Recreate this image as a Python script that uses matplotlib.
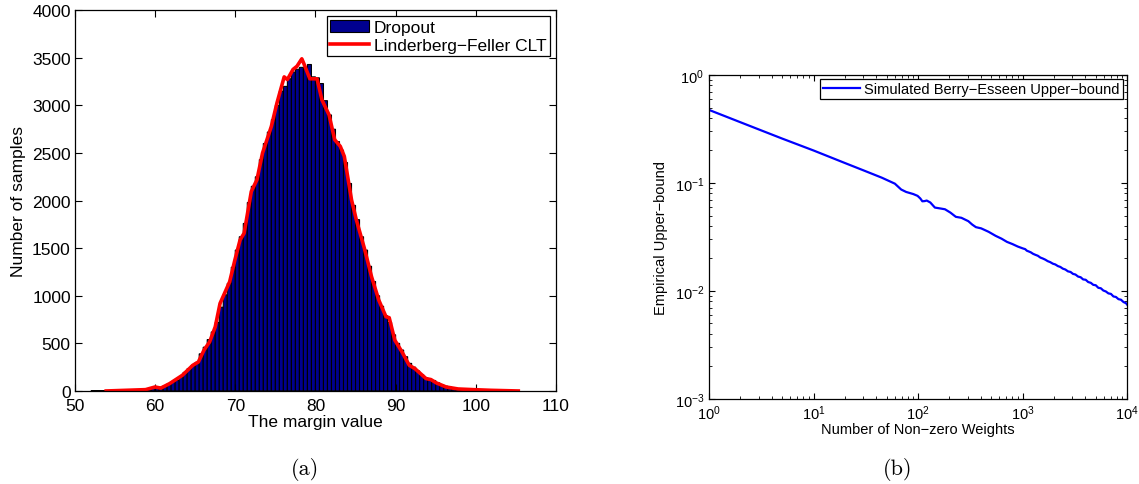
import numpy as np
import matplotlib
matplotlib.use("Agg")
import matplotlib.pyplot as plt
from matplotlib.patches import Patch
from matplotlib.lines import Line2D

plt.rcParams['font.family'] = ['Liberation Sans', 'DejaVu Sans']
plt.rcParams['mathtext.fontset'] = 'custom'
plt.rcParams['mathtext.rm'] = 'Liberation Sans'
plt.rcParams['mathtext.it'] = 'Liberation Sans:italic'

# ---------------- data: panel (a) ----------------
bin_start = 52.0
bin_width = 0.5
hist_counts = [1, 2, 2, 3, 3, 4, 5, 6, 7, 9, 10, 12, 14, 17, 22, 30,
               40, 40, 55, 75, 95, 110, 150, 195, 235, 270, 300, 390, 460, 540, 620, 720,
               880, 1010, 1130, 1300, 1480, 1620, 1760, 1980, 2150, 2250, 2430, 2600, 2720, 2850, 3000, 3150,
               3200, 3280, 3350, 3380, 3400, 3380, 3430, 3300, 3290, 3230, 3050, 2900, 2750, 2620, 2530, 2400,
               2180, 1950, 1800, 1620, 1480, 1310, 1150, 1000, 890, 790, 720, 590, 500, 430, 360, 290,
               250, 210, 170, 140, 120, 110, 85, 65, 50, 40, 30, 22, 17, 12, 9, 6]

clt_x = [53.9, 58.8, 60.0, 60.7, 61.8, 63.4, 64.7, 65.4, 66.1, 66.8, 67.5, 68.1, 69.3, 69.95,
         70.6, 71.1, 72.0, 72.7, 73.4, 74.5, 75.2, 76.1, 76.5, 77.2, 77.7, 78.3, 78.6, 79.3,
         80.2, 80.8, 81.7, 82.4, 83.1, 83.6, 84.5, 85.1, 86.1, 87.0, 87.9, 88.8, 89.2, 89.9,
         90.8, 91.7, 92.4, 93.8, 94.4, 95.1, 96.3, 97.8, 99.7, 101.9, 105.3]
clt_y = [0, 14, 42, 30, 77, 165, 270, 305, 430, 516, 674, 920, 1148, 1376,
         1587, 1657, 2096, 2219, 2500, 2780, 3026, 3300, 3272, 3378, 3412, 3490, 3430, 3280,
         3280, 3060, 2900, 2640, 2570, 2465, 2008, 1798, 1500, 1200, 955, 780, 770, 534,
         410, 270, 235, 130, 120, 84, 42, 21, 14, 7, 0]

# ---------------- data: panel (b) ----------------
n_weights = [1, 2, 3, 5, 10, 20, 30, 45, 60, 69, 77, 90, 99, 105, 110, 116, 121, 131, 145,
             165, 181, 204, 230, 260, 303, 330, 358, 402, 474, 553, 630, 709, 800, 900, 1005,
             1060, 1100, 1150, 1200, 1260, 1330, 1400, 1480, 1560, 1650, 1740, 1840, 1950, 2060,
             2180, 2300, 2430, 2570, 2720, 2880, 3040, 3210, 3400, 3600, 3800, 4020, 4250,
             4500, 4750, 5020, 5310, 5610, 5930, 6270, 6630, 7010, 7410, 7830, 8280, 8750,
             9250, 9780, 10000]
bound = [0.475, 0.365, 0.313, 0.258, 0.200, 0.153, 0.131, 0.112, 0.0986, 0.0870, 0.0826,
         0.0790, 0.0760, 0.0720, 0.0677, 0.0680, 0.0688, 0.0660, 0.0592, 0.0580, 0.0571,
         0.0532, 0.0486, 0.0476, 0.0443, 0.0412, 0.0390, 0.0380, 0.0353, 0.0324, 0.0305,
         0.0285, 0.0272, 0.0258, 0.0248,
         0.0244, 0.0236, 0.0232, 0.0228, 0.0221, 0.0216, 0.0212, 0.0204, 0.0200, 0.0195,
         0.0189, 0.0185, 0.0179, 0.0176, 0.0170, 0.0167, 0.0161, 0.0158, 0.0152, 0.0150,
         0.0144, 0.0142, 0.0136, 0.0134, 0.0128, 0.0127, 0.0121, 0.0119, 0.0114, 0.0113,
         0.0107, 0.0106, 0.0101, 0.0099, 0.0095, 0.0094, 0.0089, 0.0088, 0.0084, 0.0083,
         0.0079, 0.0077, 0.0075]

navy = '#00008F'

fig = plt.figure(figsize=(11.39, 4.85), dpi=100)

# ---------------- panel (a) ----------------
ax1 = fig.add_axes([0.0658, 0.1918, 0.4223, 0.785])
centers = bin_start + bin_width * (np.arange(len(hist_counts)) + 0.5)
bars = ax1.bar(centers, hist_counts, width=bin_width, color=navy, edgecolor='black', linewidth=0.8)
for b in bars:
    b.set_snap(False)
ax1.plot(clt_x, clt_y, color='red', lw=2.6, solid_joinstyle='round')
ax1.set_xlim(50, 110)
ax1.set_ylim(0, 4000)
ax1.set_xticks(np.arange(50, 111, 10))
ax1.set_yticks(np.arange(0, 4001, 500))
ax1.tick_params(direction='in', top=True, right=True, length=5, width=0.8, labelsize=12.5, pad=3)
ax1.tick_params(axis='x', pad=5)
ax1.set_xlabel('The margin value', fontsize=12.5, labelpad=1)
ax1.set_ylabel('Number of samples', fontsize=12.5, labelpad=4)
for s in ax1.spines.values():
    s.set_linewidth(0.9)
handles = [Patch(facecolor=navy, edgecolor='black', linewidth=0.8),
           Line2D([0], [0], color='red', lw=2.6)]
leg1 = ax1.legend(handles, ['Dropout', 'Linderberg\u2212Feller CLT'], loc='upper right',
                  fontsize=12.5, fancybox=False, framealpha=1, edgecolor='black',
                  borderaxespad=0.35, handlelength=2.2, handletextpad=0.3,
                  borderpad=0.2, labelspacing=0.15)
leg1.get_frame().set_linewidth(0.9)

# ---------------- panel (b) ----------------
ax2 = fig.add_axes([0.6225, 0.1753, 0.367, 0.668])
ax2.loglog(n_weights, bound, color='#0000FF', lw=1.6)
ax2.set_xlim(1, 1e4)
ax2.set_ylim(1e-3, 1)
ax2.tick_params(which='both', direction='in', top=True, right=True, labelsize=10.5)
ax2.tick_params(which='major', length=4, width=0.8)
ax2.tick_params(which='minor', length=2.5, width=0.6)
ax2.set_xlabel('Number of Non\u2212zero Weights', fontsize=10.5, labelpad=0)
ax2.set_ylabel('Empirical Upper\u2212bound', fontsize=10.5, labelpad=5)
for s in ax2.spines.values():
    s.set_linewidth(0.9)
leg2 = ax2.legend(['Simulated Berry\u2212Esseen Upper\u2212bound'], loc='upper right',
                  fontsize=10.5, fancybox=False, framealpha=1, edgecolor='black',
                  borderaxespad=0.3, handlelength=2.5, handletextpad=0.3, borderpad=0.2)
leg2.get_frame().set_linewidth(0.9)

# captions
fig.text(0.268, 0.008, '(a)', fontsize=16, family='cmr10', ha='center', va='bottom')
fig.text(0.788, 0.008, '(b)', fontsize=16, family='cmr10', ha='center', va='bottom')

fig.savefig('out.png', dpi=100)
